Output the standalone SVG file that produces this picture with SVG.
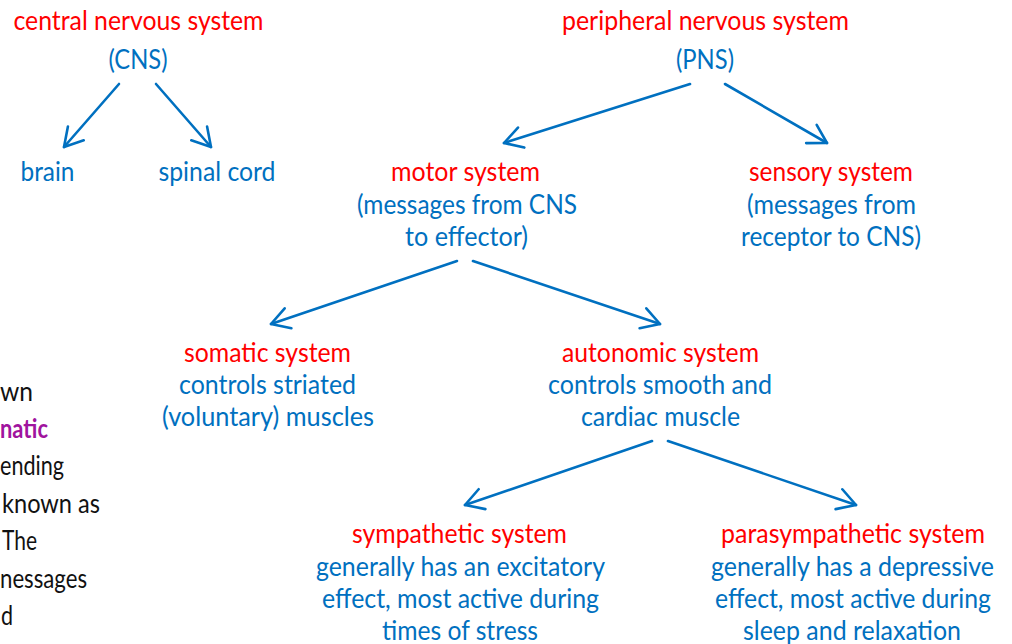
<svg xmlns="http://www.w3.org/2000/svg" width="1012" height="644" viewBox="0 0 1012 644">
<style>
text{font-family:Lato,"Open Sans","Liberation Sans",sans-serif;font-size:27px;text-anchor:middle}
.r{fill:#FF0000}
.b{fill:#0070C0}
.k{fill:#111111;text-anchor:start;font-size:26px}
.p{fill:#A0139E;font-weight:bold}
.c line{stroke:#0070C0;stroke-width:2.6;stroke-linecap:round;marker-end:url(#ah)}
</style>
<defs>
<marker id="ah" markerUnits="userSpaceOnUse" markerWidth="30" markerHeight="30" viewBox="-22 -15 30 30" refX="0" refY="0" orient="auto" overflow="visible">
<path d="M-18,-10.5 L0,0 L-18,10.5" fill="none" stroke="#0070C0" stroke-width="2.6" stroke-linecap="round" stroke-linejoin="round"/>
</marker>
</defs>
<rect width="1012" height="644" fill="#FFFFFF"/>
<g id="side-text">
<text class="k" x="0" y="401" textLength="33" lengthAdjust="spacingAndGlyphs">wn</text>
<text class="k p" x="0" y="438" textLength="48" lengthAdjust="spacingAndGlyphs">natic</text>
<text class="k" x="0" y="475" textLength="64" lengthAdjust="spacingAndGlyphs">ending</text>
<text class="k" x="2" y="513" textLength="98" lengthAdjust="spacingAndGlyphs">known as</text>
<text class="k" x="2" y="550" textLength="35" lengthAdjust="spacingAndGlyphs">The</text>
<text class="k" x="0" y="588" textLength="87" lengthAdjust="spacingAndGlyphs">nessages</text>
<text class="k" x="1" y="625" textLength="12" lengthAdjust="spacingAndGlyphs">d</text>
</g>
<g id="cns">
<text class="r" x="138.5" y="30" textLength="250" lengthAdjust="spacingAndGlyphs">central nervous system</text>
<text class="b" x="138" y="69" textLength="59" lengthAdjust="spacingAndGlyphs">(CNS)</text>
</g>
<g id="brain"><text class="b" x="47.5" y="181" textLength="54" lengthAdjust="spacingAndGlyphs">brain</text></g>
<g id="spinal-cord"><text class="b" x="217" y="181" textLength="117" lengthAdjust="spacingAndGlyphs">spinal cord</text></g>
<g id="pns">
<text class="r" x="705.5" y="30" textLength="287" lengthAdjust="spacingAndGlyphs">peripheral nervous system</text>
<text class="b" x="705" y="69" textLength="58" lengthAdjust="spacingAndGlyphs">(PNS)</text>
</g>
<g id="motor">
<text class="r" x="465.5" y="181" textLength="149" lengthAdjust="spacingAndGlyphs">motor system</text>
<text class="b" x="467" y="214" textLength="220" lengthAdjust="spacingAndGlyphs">(messages from CNS</text>
<text class="b" x="466.5" y="246" textLength="123" lengthAdjust="spacingAndGlyphs">to effector)</text>
</g>
<g id="sensory">
<text class="r" x="831" y="181" textLength="164" lengthAdjust="spacingAndGlyphs">sensory system</text>
<text class="b" x="831.5" y="214" textLength="169" lengthAdjust="spacingAndGlyphs">(messages from</text>
<text class="b" x="831" y="246" textLength="180" lengthAdjust="spacingAndGlyphs">receptor to CNS)</text>
</g>
<g id="somatic">
<text class="r" x="267.5" y="362" textLength="167" lengthAdjust="spacingAndGlyphs">somatic system</text>
<text class="b" x="267.5" y="394" textLength="177" lengthAdjust="spacingAndGlyphs">controls striated</text>
<text class="b" x="268" y="426" textLength="212" lengthAdjust="spacingAndGlyphs">(voluntary) muscles</text>
</g>
<g id="autonomic">
<text class="r" x="660.5" y="362" textLength="197" lengthAdjust="spacingAndGlyphs">autonomic system</text>
<text class="b" x="660" y="394" textLength="224" lengthAdjust="spacingAndGlyphs">controls smooth and</text>
<text class="b" x="660.5" y="426" textLength="159" lengthAdjust="spacingAndGlyphs">cardiac muscle</text>
</g>
<g id="sympathetic">
<text class="r" x="459.5" y="543" textLength="215" lengthAdjust="spacingAndGlyphs">sympathetic system</text>
<text class="b" x="460.5" y="575.5" textLength="289" lengthAdjust="spacingAndGlyphs">generally has an excitatory</text>
<text class="b" x="460.5" y="608" textLength="277" lengthAdjust="spacingAndGlyphs">effect, most active during</text>
<text class="b" x="460" y="640" textLength="156" lengthAdjust="spacingAndGlyphs">times of stress</text>
</g>
<g id="parasympathetic">
<text class="r" x="853" y="543" textLength="264" lengthAdjust="spacingAndGlyphs">parasympathetic system</text>
<text class="b" x="852.5" y="575.5" textLength="283" lengthAdjust="spacingAndGlyphs">generally has a depressive</text>
<text class="b" x="853" y="608" textLength="276" lengthAdjust="spacingAndGlyphs">effect, most active during</text>
<text class="b" x="852" y="640" textLength="218" lengthAdjust="spacingAndGlyphs">sleep and relaxation</text>
</g>
<g id="connectors" class="c">
<line x1="119" y1="84" x2="64" y2="147"/>
<line x1="156" y1="84" x2="211" y2="147"/>
<line x1="690" y1="84" x2="504" y2="143"/>
<line x1="725" y1="84" x2="827" y2="143"/>
<line x1="457" y1="261" x2="271" y2="324"/>
<line x1="473" y1="261" x2="660" y2="324"/>
<line x1="652" y1="441" x2="465" y2="505"/>
<line x1="668" y1="441" x2="856" y2="505"/>
</g>
</svg>
